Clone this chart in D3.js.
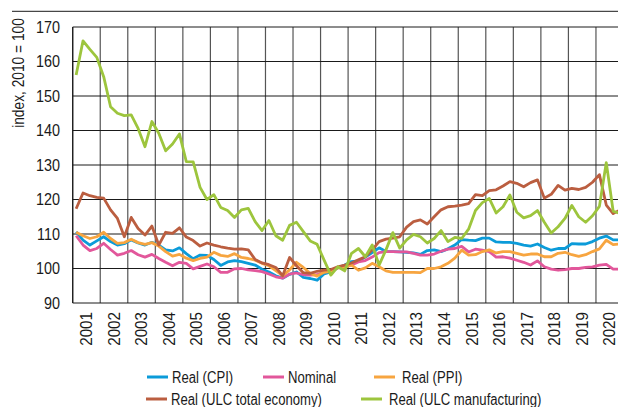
<!DOCTYPE html>
<meta charset="utf-8">
<style>
  body { margin: 0; background: #fff; }
  svg { display: block; }
  text { font-family: "Liberation Sans", Arial, sans-serif; fill: #1a1a1a; font-size: 16px; }
  .grid-h { stroke: #1a1a1a; stroke-width: 1; }
  .grid-v { stroke: #555; stroke-width: 1.2; }
  .series { fill: none; stroke-width: 2.8; stroke-linejoin: round; }
</style>
<body>
<div id="chart"></div>
<script src="https://cdn.jsdelivr.net/npm/d3@7"></script>
<script>
// quarterly observations, 2001Q1 .. 2020Q4
var quarters = d3.range(80).map(function (i) { return (2001 + Math.floor(i / 4)) + "Q" + (i % 4 + 1); });
var years = d3.range(2001, 2021);
var yTicks = [90, 100, 110, 120, 130, 140, 150, 160, 170];

var realCPI = [
  110.6, 108.2, 106.8, 108.0, 109.2, 107.8, 106.8, 107.2, 108.3, 107.4,
  106.8, 107.6, 106.8, 105.4, 105.1, 106.0, 104.3, 102.8, 103.9, 103.8,
  102.6, 100.9, 101.9, 102.3, 102.0, 101.5, 101.0, 99.8, 99.0, 97.9,
  97.2, 98.3, 99.0, 97.4, 97.1, 96.6, 98.4, 99.0, 100.2, 101.0,
  102.0, 102.2, 103.3, 104.6, 106.0, 104.9, 104.9, 104.8, 104.7, 104.5,
  104.1, 105.2, 105.4, 104.9, 105.7, 106.8, 108.4, 108.2, 108.1, 108.8,
  108.8, 107.7, 107.6, 107.6, 107.3, 106.8, 106.5, 107.1, 106.1, 105.3,
  105.8, 105.8, 107.2, 107.1, 107.1, 107.8, 108.8, 109.4, 108.3, 108.3
];
var nominal = [
  109.5, 106.8, 105.2, 105.8, 107.3, 105.5, 103.9, 104.4, 105.2, 104.0,
  103.3, 104.1, 102.9, 101.8, 100.8, 101.8, 101.5, 99.9, 100.6, 101.3,
  100.5, 98.9, 98.9, 99.9, 100.0, 99.6, 99.4, 99.1, 98.4, 97.6,
  97.2, 98.4, 98.7, 98.2, 98.1, 98.2, 99.0, 99.5, 100.2, 100.7,
  101.0, 101.9, 102.3, 103.3, 104.6, 104.9, 104.9, 104.8, 104.8, 104.4,
  103.9, 103.9, 104.2, 105.0, 105.6, 105.8, 106.4, 104.8, 105.6, 105.3,
  104.9, 103.3, 103.4, 103.0, 102.4, 101.8, 101.0, 102.2, 100.5, 99.8,
  99.5, 99.7, 100.0, 100.0, 100.3, 100.5, 101.0, 101.2, 99.8, 99.8
];
var realPPI = [
  110.5, 109.5, 108.7, 109.2, 110.5, 108.7, 107.3, 107.5, 108.5, 107.5,
  107.0, 107.5, 106.5, 104.9, 103.6, 104.1, 103.0, 102.3, 102.9, 103.3,
  104.7, 103.8, 103.5, 104.3, 103.2, 102.9, 102.4, 101.5, 100.8, 99.4,
  97.9, 99.6, 101.8, 100.3, 98.6, 97.8, 98.9, 99.2, 100.2, 100.3,
  101.0, 99.5, 100.2, 101.5, 100.5, 99.3, 98.9, 98.9, 98.9, 98.9,
  98.8, 100.0, 100.0, 100.5, 101.5, 103.0, 105.3, 103.9, 104.0, 104.9,
  105.4, 104.5, 104.9, 104.9, 104.4, 103.9, 104.2, 104.2, 103.4, 103.4,
  104.4, 104.7, 104.0, 103.5, 104.0, 104.9, 105.7, 108.2, 106.9, 107.1
];
var realULCTotal = [
  117.3, 121.9, 121.1, 120.6, 120.4, 117.0, 114.5, 109.2, 114.8, 111.6,
  109.7, 112.3, 106.8, 110.5, 110.2, 111.8, 109.1, 108.1, 106.5, 107.4,
  106.8, 106.3, 105.9, 105.6, 105.7, 105.4, 102.6, 101.6, 101.1, 100.3,
  97.9, 103.2, 100.8, 98.8, 98.6, 99.2, 99.5, 99.7, 100.5, 101.0,
  101.6, 102.5, 103.4, 105.4, 107.8, 108.5, 108.8, 109.2, 112.0, 113.6,
  114.1, 112.9, 115.0, 117.0, 117.9, 118.1, 118.4, 118.8, 121.4, 121.1,
  122.6, 122.8, 123.9, 125.2, 124.7, 123.7, 124.9, 125.7, 120.4, 121.5,
  124.1, 122.7, 123.2, 122.9, 123.5, 125.0, 127.2, 118.4, 115.9, 117.0
];
var realULCManuf = [
  156.1, 166.0, 163.5, 161.2, 155.6, 146.9, 145.0, 144.3, 144.5, 140.6,
  135.3, 142.6, 139.2, 134.1, 136.1, 139.0, 131.0, 130.9, 123.5, 120.0,
  121.4, 117.7, 116.8, 114.8, 117.0, 117.4, 113.6, 111.0, 113.9, 109.5,
  108.2, 112.5, 113.4, 110.7, 108.0, 107.0, 102.5, 98.1, 100.5, 99.3,
  104.4, 105.8, 103.4, 106.8, 101.0, 105.4, 110.4, 105.9, 108.3, 109.9,
  109.2, 107.4, 108.7, 111.0, 107.8, 109.0, 108.7, 111.4, 116.8, 119.1,
  120.3, 116.1, 117.9, 121.3, 116.3, 114.7, 115.3, 116.8, 113.4, 110.3,
  112.1, 114.5, 118.3, 115.0, 113.4, 115.3, 118.0, 130.7, 116.6, 116.0
];

var seriesNames = ["Real (CPI)", "Nominal", "Real (PPI)", "Real (ULC total economy)", "Real (ULC manufacturing)"];
var seriesValues = [realCPI, nominal, realPPI, realULCTotal, realULCManuf];
var seriesColors = ["#0b9bd9", "#e2579b", "#f7a540", "#bb5e40", "#9dc53d"];

var width = 618, height = 407;
var margin = { top: 27, left: 72.7, bottom: 104 };
var plotRight = 623.5;

// the source uses a condensed face; squeeze the regular one horizontally
var squeeze = { ytick: 0.9, xtick: 0.95, title: 0.86, legend: 0.82 };

var svg = d3.select("#chart").append("svg")
  .attr("width", width)
  .attr("height", height);

var x = d3.scaleLinear().domain([2001, 2021]).range([margin.left, plotRight]);
var y = d3.scaleLinear().domain([90, 170]).range([height - margin.bottom, margin.top]);

function qx(i) {
  var q = quarters[i];
  var yr = +q.slice(0, 4), qn = +q.slice(5);
  return x(yr + (qn - 0.5) / 4);
}

// rule above the chart
svg.append("line")
  .attr("x1", 12).attr("x2", width)
  .attr("y1", 11.3).attr("y2", 11.3)
  .attr("stroke", "#1a1a1a").attr("stroke-width", 1);

// vertical grid at year boundaries
svg.append("g").selectAll("line")
  .data(years.concat([2021]))
  .enter().append("line")
  .attr("class", "grid-v")
  .attr("x1", d => x(d)).attr("x2", d => x(d))
  .attr("y1", y(170)).attr("y2", y(90));

// horizontal grid
svg.append("g").selectAll("line")
  .data(yTicks)
  .enter().append("line")
  .attr("class", "grid-h")
  .attr("x1", x(2001)).attr("x2", width)
  .attr("y1", d => y(d)).attr("y2", d => y(d))
  .attr("stroke-width", d => d === 90 ? 1.8 : 1);

svg.append("line")
  .attr("x1", x(2001)).attr("x2", x(2001))
  .attr("y1", y(170)).attr("y2", y(90))
  .attr("stroke", "#1a1a1a").attr("stroke-width", 1.2);

// y axis labels
svg.append("g").selectAll("text")
  .data(yTicks)
  .enter().append("text")
  .attr("transform", d => "translate(60," + y(d) + ") scale(" + squeeze.ytick + ",1)")
  .attr("dy", "0.36em")
  .attr("text-anchor", "end")
  .text(d => d);

svg.append("text")
  .attr("transform", "translate(24,73) rotate(-90) scale(" + squeeze.title + ",1)")
  .attr("text-anchor", "middle")
  .text("index, 2010 = 100");

// x axis labels (rotated years)
svg.append("g").selectAll("text")
  .data(years)
  .enter().append("text")
  .attr("transform", d => "translate(" + (x(d + 0.5) + 5.5) + ",312) rotate(-90) scale(" + squeeze.xtick + ",1)")
  .attr("text-anchor", "end")
  .text(d => d);

// series lines
var line = d3.line()
  .x((d, i) => qx(i))
  .y(d => y(d));

svg.append("g").selectAll("path")
  .data(seriesValues)
  .enter().append("path")
  .attr("class", "series")
  .attr("stroke", (d, i) => seriesColors[i])
  .attr("d", line);

// legend
var legendPos = [[147, 377], [263, 377], [374, 377], [146, 399], [361, 399]];
var legend = svg.append("g")
  .selectAll("g")
  .data(seriesNames)
  .enter().append("g")
  .attr("transform", (d, i) => "translate(" + legendPos[i][0] + "," + legendPos[i][1] + ")");

legend.append("line")
  .attr("x1", 0).attr("x2", 21)
  .attr("y1", 0).attr("y2", 0)
  .attr("stroke", (d, i) => seriesColors[i])
  .attr("stroke-width", 3);

legend.append("text")
  .attr("transform", (d, i) => "translate(" + (i === 2 || i === 4 ? 28 : 25) + ",0) scale(" + squeeze.legend + ",1)")
  .attr("dy", "0.36em")
  .text(d => d);
</script>
</body>
